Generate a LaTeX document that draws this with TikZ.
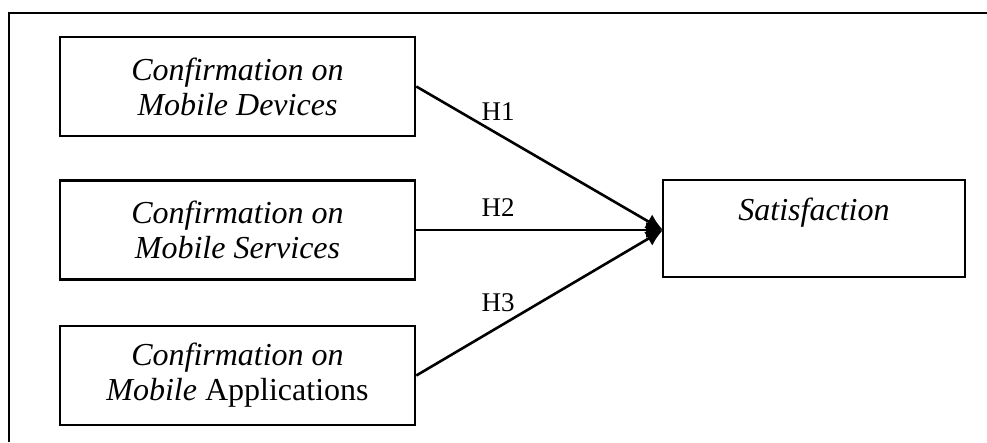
\documentclass[tikz,border=0pt]{standalone}
\usepackage{fontspec}
\setmainfont{Liberation Serif}
\usetikzlibrary{arrows.meta,calc}
\begin{document}
\begin{tikzpicture}[x=1pt,y=-1pt,
  box/.style={draw,line width=2.6pt,minimum width=355pt,minimum height=99pt,inner sep=0pt,align=center,font=\fontsize{32}{35}\selectfont},
  sbox/.style={draw,line width=2.6pt,minimum width=302pt,minimum height=97pt,inner sep=0pt},
  conn/.style={line width=2.6pt,-{Latex[length=17pt,width=16pt]}},
  hlab/.style={font=\fontsize{27}{30}\selectfont,inner sep=0pt}]
\useasboundingbox (0,0) rectangle (987,442);
\coordinate (fbl) at (9,442);
\coordinate (ftl) at (9,13);
\coordinate (ftr) at (987,13);
\draw[line width=2.6pt] (fbl) -- (ftl) -- (ftr);
\node[box] (b1) at (237.5,86.5) {\textit{Confirmation on}\\\textit{Mobile Devices}};
\node[box] (b2) at (237.5,230) {\textit{Confirmation on}\\\textit{Mobile Services}};
\node[box] (b3) at (237.5,375.5) {\textit{Confirmation on}\\\textit{Mobile} Applications};
\node[sbox] (sat) at (814,228.5) {};
\node[anchor=base,inner sep=0pt,font=\fontsize{32}{35}\selectfont] (satl) at ($(sat.north)+(0,42)$) {\textit{Satisfaction}};
\coordinate (tip) at (663,230);
\draw[conn] (b1.east) -- (tip);
\draw[conn] (b2.east) -- (tip);
\draw[conn] (b3.east) -- (tip);
\node[hlab] (h1) at (498,112) {H1};
\node[hlab] (h2) at (498,208) {H2};
\node[hlab] (h3) at (498,303) {H3};
\end{tikzpicture}
\end{document}
